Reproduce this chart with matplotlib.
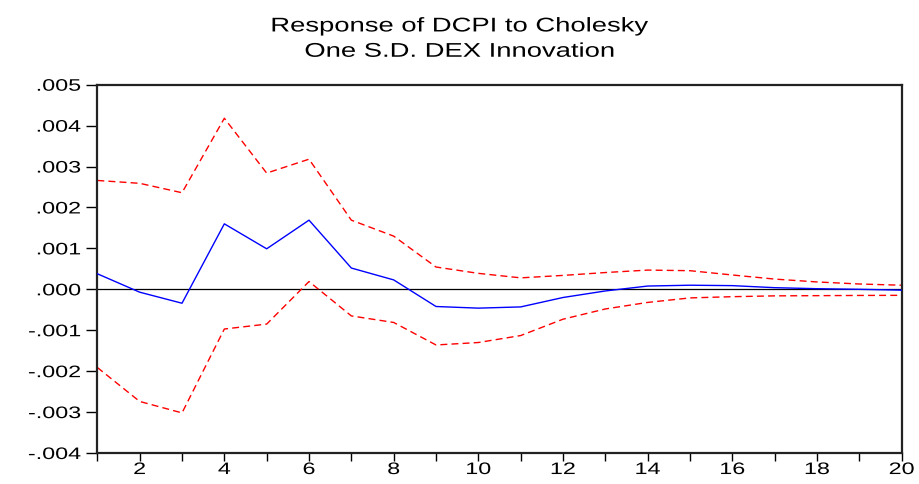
import matplotlib
matplotlib.use("Agg")
import matplotlib.pyplot as plt
from matplotlib.patheffects import AbstractPathEffect
from matplotlib.transforms import Affine2D

periods = list(range(1, 21))
response = [0.00038, -0.00007, -0.00034, 0.00160, 0.00099, 0.00169, 0.00052, 0.00023,
            -0.00042, -0.00046, -0.00043, -0.00020, -0.00004, 0.00008, 0.00010, 0.00009,
            0.00004, 0.000015, 0.0, -0.00002]
upper = [0.00266, 0.00259, 0.00236, 0.00418, 0.00284, 0.00318, 0.00169, 0.00130,
         0.000545, 0.00039, 0.00028, 0.00034, 0.00041, 0.00047, 0.000455, 0.00035,
         0.00025, 0.00018, 0.00013, 0.00010]
lower = [-0.00191, -0.00274, -0.00302, -0.00097, -0.00085, 0.00019, -0.00065, -0.00081,
         -0.00136, -0.00130, -0.00113, -0.00073, -0.00048, -0.00032, -0.00021, -0.00018,
         -0.00016, -0.000155, -0.00015, -0.000147]
ytick_vals = [0.005, 0.004, 0.003, 0.002, 0.001, 0.000, -0.001, -0.002, -0.003, -0.004]
ytick_labels = [".005", ".004", ".003", ".002", ".001", ".000", "-.001", "-.002", "-.003", "-.004"]
title = "Response of DCPI to Cholesky\nOne S.D. DEX Innovation"


class HStretch(AbstractPathEffect):
    """Widen glyphs horizontally (the reference text is horizontally stretched)."""
    def __init__(self, sx=1.4, anchor=0.5):
        super().__init__()
        self.sx = sx
        self.anchor = anchor

    def draw_path(self, renderer, gc, tpath, affine, rgbFace=None):
        ext = tpath.get_extents()
        x0 = ext.x0 + self.anchor * ext.width
        t = Affine2D().translate(-x0, 0).scale(self.sx, 1.0).translate(x0, 0) + affine
        renderer.draw_path(gc, tpath, t, rgbFace)


plt.rcParams['font.family'] = ['Liberation Sans', 'DejaVu Sans']

fig = plt.figure(figsize=(9.2, 4.85), dpi=100)
ax = fig.add_axes([0.1058, 0.0639, 0.8743, 0.7594])

ax.axhline(0, color='black', linewidth=0.9, zorder=1)
ax.plot(periods, upper, color='#ff0000', linestyle=(0, (5, 3)), linewidth=1.0, zorder=2)
ax.plot(periods, lower, color='#ff0000', linestyle=(0, (5, 3)), linewidth=1.0, zorder=2)
ax.plot(periods, response, color='#0000ff', linewidth=1.0, zorder=3)

ax.set_xlim(1, 20)
ax.set_ylim(-0.004, 0.005)
ax.set_yticks(ytick_vals)
ax.set_yticklabels(ytick_labels)
ax.set_xticks(periods)
ax.set_xticklabels([str(p) if p % 2 == 0 else "" for p in periods])

for s in ax.spines.values():
    s.set_linewidth(1.6)
    s.set_color('#222222')
ax.tick_params(axis='both', direction='out', width=1.0, labelsize=12, colors='black')
ax.tick_params(axis='y', length=8, pad=4)
ax.tick_params(axis='x', length=5.5, pad=1)

for lbl in ax.get_yticklabels():
    lbl.set_path_effects([HStretch(1.4, 1.0)])
for lbl in ax.get_xticklabels():
    lbl.set_path_effects([HStretch(1.4, 0.5)])

st = fig.suptitle(title, fontsize=14.3, y=0.964, linespacing=1.42)
st.set_path_effects([HStretch(1.38, 0.5)])

fig.savefig("out.png", dpi=100)
